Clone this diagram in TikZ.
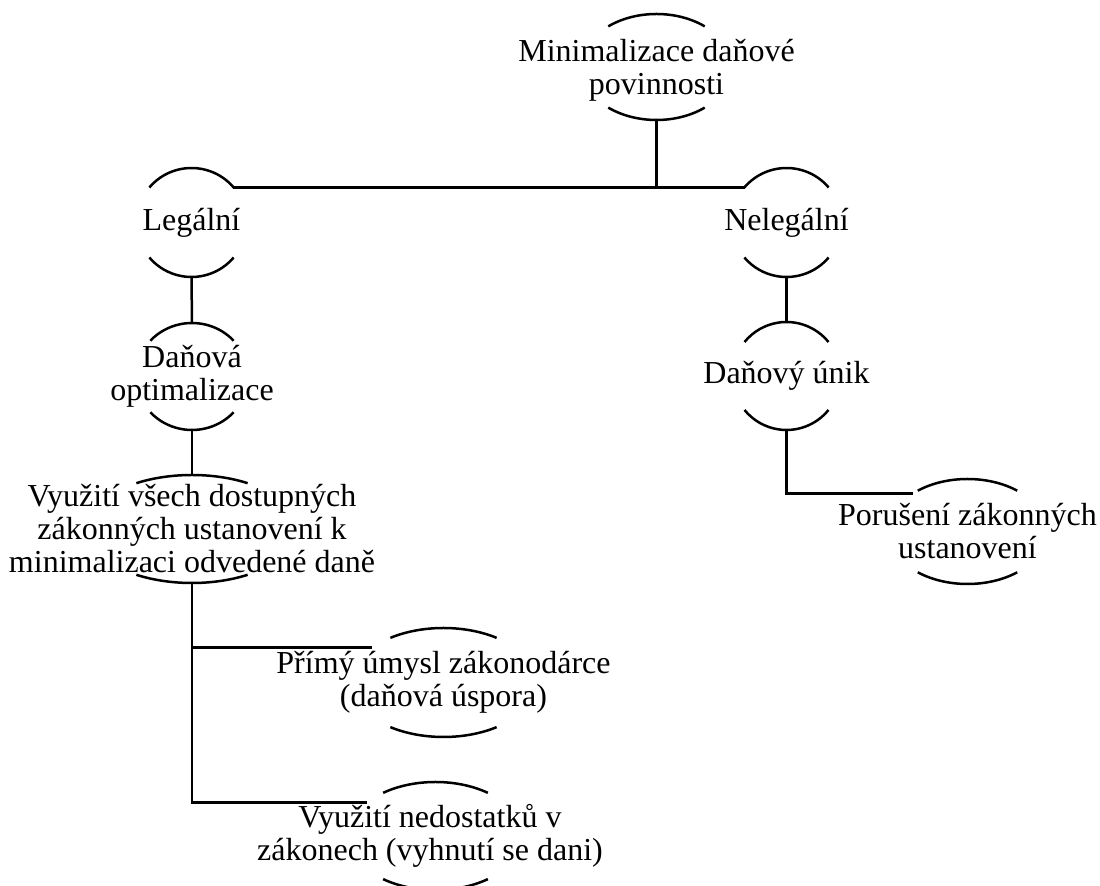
\documentclass[tikz,border=0pt]{standalone}
\usepackage{fontspec}
\setmainfont{Liberation Serif}
\usetikzlibrary{shapes.geometric}
\tikzset{x=0.5pt, y=0.5pt,
  frame/.style={ellipse, inner sep=0pt, outer sep=0pt},
  caption/.style={align=center, inner sep=0pt, font=\fontsize{16}{16.5}\selectfont},
  wire/.style={line width=1.25pt}}
% upper and lower rim of an oval: node, x radius, y radius, cut angle
\newcommand{\rims}[4]{%
  \draw[wire] ([shift={(#4:#2 and #3)}]#1.center) arc[start angle=#4, end angle=180-#4, x radius=#2, y radius=#3];
  \draw[wire] ([shift={(-#4:#2 and #3)}]#1.center) arc[start angle=-#4, end angle=-180+#4, x radius=#2, y radius=#3];
}

\begin{document}
\begin{tikzpicture}
    \useasboundingbox (0,0) rectangle (1100,-886);
    % ovals
    \node[frame, minimum width=75pt, minimum height=53pt] (minim) at (656.5,-67) {};
    \node[frame, minimum width=55pt, minimum height=54.5pt] (legal) at (191.5,-222.5) {};
    \node[frame, minimum width=55pt, minimum height=54.5pt] (nelegal) at (786.5,-222.5) {};
    \node[frame, minimum width=56pt, minimum height=53.5pt] (optim) at (192,-376.5) {};
    \node[frame, minimum width=54pt, minimum height=54pt] (unik) at (786.5,-376) {};
    \node[frame, minimum width=105pt, minimum height=54pt] (vyuziti) at (192,-529) {};
    \node[frame, minimum width=79pt, minimum height=52.5pt] (poruseni) at (967.5,-531.5) {};
    \node[frame, minimum width=92.6pt, minimum height=54.5pt] (primy) at (443.5,-682.5) {};
    \node[frame, minimum width=87pt, minimum height=54pt] (nedostatky) at (435.5,-836) {};
    % texts
    \node[caption] (minim text) at (656.5,-70) {Minimalizace daňové\\povinnosti};
    \node[caption] (legal text) at (legal) {Legální};
    \node[caption] (nelegal text) at (nelegal) {Nelegální};
    \node[caption] (optim text) at (optim) {Daňová\\optimalizace};
    \node[caption] (unik text) at (unik) {Daňový únik};
    \node[caption] (vyuziti text) at (vyuziti) {Využití všech dostupných\\zákonných ustanovení k\\minimalizaci odvedené daně};
    \node[caption] (poruseni text) at (poruseni) {Porušení zákonných\\ustanovení};
    \node[caption] (primy text) at (primy) {Přímý úmysl zákonodárce\\(daňová úspora)};
    \node[caption] (nedostatky text) at (430,-836) {Využití nedostatků v\\zákonech (vyhnutí se dani)};
    % rims
    \rims{minim}{75}{53}{50}
    \rims{legal}{55}{54.5}{40}
    \rims{nelegal}{55}{54.5}{40}
    \rims{optim}{56}{53.5}{42}
    \rims{unik}{54}{54}{39}
    \rims{vyuziti}{105}{54}{58}
    \rims{poruseni}{79}{52.5}{51}
    \rims{primy}{92.6}{54.5}{55}
    \rims{nedostatky}{87}{54}{53}
    % connectors
    \draw[wire] (minim.south) -- (minim.south |- legal.40);
    \draw[wire] (legal.40) -- (nelegal.140);
    \draw[wire] (legal.south) -- (optim.north);
    \draw[wire] (optim.south) -- (vyuziti.north);
    \draw[wire] (vyuziti.south) |- (primy.154);
    \draw[wire] (vyuziti.south) |- (nedostatky.154);
    \draw[wire] (nelegal.south) -- (unik.north);
    \draw[wire] (unik.south) |- (poruseni.145);
\end{tikzpicture}
\end{document}
